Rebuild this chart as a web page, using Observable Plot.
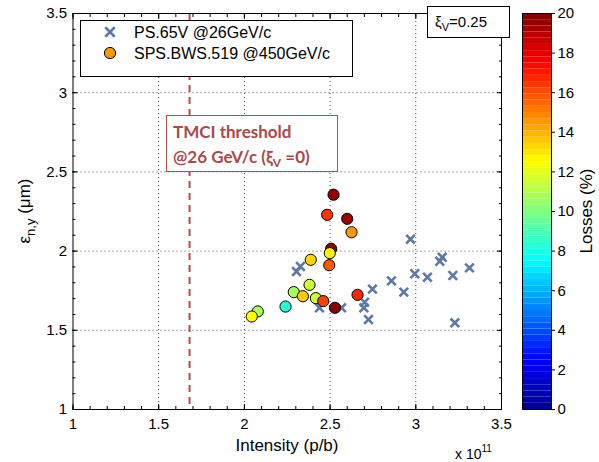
<!DOCTYPE html>
<html><head><meta charset="utf-8">
<script src="https://cdn.jsdelivr.net/npm/d3@7"></script>
<script src="https://cdn.jsdelivr.net/npm/@observablehq/plot@0.6"></script>
<style>
body{margin:0;background:#fff}
#wrap{position:relative;width:599px;height:462px;font-family:"Liberation Sans",Arial,sans-serif}
#wrap svg{position:absolute;left:0;top:0}
</style>
</head><body><div id="wrap"></div>
<script>
// PS.65V @26GeV/c (crosses)
const psIntensity = [2.327, 2.304, 2.438, 2.567, 2.969, 3.154, 3.140, 3.313, 2.994, 3.068, 3.216, 2.858, 2.930, 2.747, 2.701, 2.697, 2.724, 3.228];
const psEmittance = [1.903, 1.871, 1.642, 1.642, 2.075, 1.961, 1.936, 1.894, 1.857, 1.835, 1.846, 1.812, 1.741, 1.760, 1.677, 1.642, 1.568, 1.547];
// SPS.BWS.519 @450GeV/c (circles, coloured by losses)
const spsIntensity = [2.520, 2.483, 2.600, 2.625, 2.506, 2.498, 2.387, 2.495, 2.380, 2.288, 2.341, 2.417, 2.460, 2.240, 2.528, 2.078, 2.043, 2.660];
const spsEmittance = [2.356, 2.229, 2.204, 2.119, 2.015, 1.987, 1.945, 1.911, 1.787, 1.741, 1.715, 1.703, 1.684, 1.650, 1.642, 1.619, 1.587, 1.724];
const spsLosses    = [19.6, 16.5, 19.5, 14.5, 19.6, 12.8, 13.3, 15.8, 11.5, 10.8, 13.5, 11.5, 16.2, 8.2, 19.8, 10.8, 12.5, 16.8];
const xTicks = [1, 1.5, 2, 2.5, 3, 3.5];
const yTicks = [1, 1.5, 2, 2.5, 3, 3.5];
const lossTicks = [0, 2, 4, 6, 8, 10, 12, 14, 16, 18, 20];
const tmciThreshold = [1.68];
const jetDomain = [0, 2.5, 7.5, 12.5, 17.5, 20];
const jetRange = ["#00008f", "#0000ff", "#00ffff", "#ffff00", "#ff0000", "#800000"];

const ps = psIntensity.map((x, i) => ({x, y: psEmittance[i]}));
const sps = spsIntensity.map((x, i) => ({x, y: spsEmittance[i], loss: spsLosses[i]}));
const minorX = d3.range(10, 36).map(d => d / 10);
const minorY = d3.range(10, 36).map(d => d / 10);
const colorScale = {type: "linear", domain: jetDomain, range: jetRange, interpolate: "rgb"};

const font = '"Liberation Sans",Arial,sans-serif';
const red = "#b0504c";
const fmt = d => String(d);

const main = Plot.plot({
  width: 599, height: 462,
  marginLeft: 72.5, marginRight: 98, marginTop: 13, marginBottom: 53,
  style: {fontFamily: font, fontSize: "15px", background: "transparent", color: "#000"},
  x: {domain: [1, 3.5], label: null},
  y: {domain: [1, 3.5], label: null},
  color: colorScale,
  marks: [
    Plot.gridX(xTicks.slice(1, -1), {stroke: "#000", strokeOpacity: 0.7, strokeDasharray: "1,3"}),
    Plot.gridY(yTicks.slice(1, -1), {stroke: "#000", strokeOpacity: 0.7, strokeDasharray: "1,3"}),
    Plot.axisX(minorX, {anchor: "bottom", tickSize: -3, tickFormat: () => "", label: null}),
    Plot.axisX(minorX, {anchor: "top", tickSize: -3, tickFormat: () => "", label: null}),
    Plot.axisY(minorY, {anchor: "left", tickSize: -3, tickFormat: () => "", label: null}),
    Plot.axisY(minorY, {anchor: "right", tickSize: -3, tickFormat: () => "", label: null}),
    Plot.axisX(xTicks, {anchor: "bottom", tickSize: -5, tickFormat: () => "", label: null}),
    Plot.axisX(xTicks, {anchor: "top", tickSize: -5, tickFormat: () => "", label: null}),
    Plot.axisY(yTicks, {anchor: "left", tickSize: -5, tickFormat: () => "", label: null}),
    Plot.axisY(yTicks, {anchor: "right", tickSize: -5, tickFormat: () => "", label: null}),
    Plot.axisX(xTicks, {anchor: "bottom", tickSize: 0, tickPadding: 9, tickFormat: fmt, label: null}),
    Plot.axisY(yTicks, {anchor: "left", tickSize: 0, tickPadding: 6, tickFormat: fmt, label: null}),
    Plot.ruleX(tmciThreshold, {stroke: red, strokeWidth: 2, strokeDasharray: "7,5"}),
    Plot.dot(ps, {x: "x", y: "y", symbol: "times", r: 4, stroke: "#5b78a8", strokeWidth: 2.6}),
    Plot.dot(sps, {x: "x", y: "y", fill: "loss", r: 5.6, stroke: "#000", strokeWidth: 1}),
    Plot.frame({stroke: "#000"})
  ]
});

const nCells = 64;
const cells = d3.range(nCells).map(i => ({lo: 20 * i / nCells, hi: 20 * (i + 1) / nCells, mid: 20 * (i + 0.5) / nCells}));
const cbar = Plot.plot({
  width: 599, height: 462,
  marginLeft: 522, marginRight: 48, marginTop: 13, marginBottom: 53,
  style: {fontFamily: font, fontSize: "15px", background: "transparent", color: "#000"},
  x: {domain: [0, 1], axis: null},
  y: {domain: [0, 20], label: null},
  color: colorScale,
  marks: [
    Plot.rect(cells, {x1: 0, x2: 1, y1: "lo", y2: "hi", fill: "mid"}),
    Plot.axisY(lossTicks, {anchor: "right", tickSize: 3, tickPadding: 3, label: null}),
    Plot.frame({stroke: "#000"})
  ]
});

const wrap = document.getElementById("wrap");
wrap.appendChild(cbar);
wrap.appendChild(main);

// annotations
const svg = d3.select(main);
const g = svg.append("g").attr("text-anchor", "start");
// legend
g.append("rect").attr("x", 80.5).attr("y", 20.5).attr("width", 272).attr("height", 56)
  .attr("fill", "#fff").attr("stroke", "#000");
g.append("path").attr("transform", "translate(110,32)")
  .attr("d", d3.symbol(d3.symbolTimes, 60)()).attr("fill", "none")
  .attr("stroke", "#5b78a8").attr("stroke-width", 2.6);
g.append("circle").attr("cx", 110).attr("cy", 53).attr("r", 5.6)
  .attr("fill", "#ff9900").attr("stroke", "#000");
g.append("text").attr("x", 134).attr("y", 38).attr("font-size", 16).attr("font-family", font).text("PS.65V @26GeV/c");
g.append("text").attr("x", 134).attr("y", 59).attr("font-size", 16).attr("font-family", font).text("SPS.BWS.519 @450GeV/c");

// xi box
g.append("rect").attr("x", 427.5).attr("y", 6.5).attr("width", 82).attr("height", 31)
  .attr("fill", "#fff").attr("stroke", "#000");
const xt = g.append("text").attr("x", 435).attr("y", 27).attr("font-size", 15).attr("font-family", font);
xt.append("tspan").text("ξ");
xt.append("tspan").attr("font-size", 11).attr("dy", 4).text("V");
xt.append("tspan").attr("dy", -4).text("=0.25");

// TMCI box
g.append("rect").attr("x", 166.5).attr("y", 115.5).attr("width", 171).attr("height", 56)
  .attr("fill", "#fff").attr("stroke", red);
const tf = '"Lato","Open Sans",sans-serif';
g.append("text").attr("x", 173).attr("y", 138).attr("font-size", 17).attr("font-weight", "bold")
  .attr("font-family", tf).attr("fill", "#a8494a").text("TMCI threshold");
const t2 = g.append("text").attr("x", 173).attr("y", 163).attr("font-size", 17).attr("font-weight", "bold")
  .attr("font-family", tf).attr("fill", "#a8494a");
t2.append("tspan").text("@26 GeV/c (ξ");
t2.append("tspan").attr("font-size", 12).attr("dy", 4).text("V");
t2.append("tspan").attr("dy", -4).text(" =0)");

// y label
const yl = g.append("text").attr("transform", "translate(30,211) rotate(-90)").attr("text-anchor", "middle")
  .attr("font-size", 17).attr("font-family", font);
yl.append("tspan").text("ε");
yl.append("tspan").attr("font-size", 13).attr("dy", 5).text("n,y");
yl.append("tspan").attr("dy", -5).text(" (μm)");

// x label
g.append("text").attr("x", 287).attr("y", 451).attr("text-anchor", "middle").attr("font-size", 17)
  .attr("font-family", font).text("Intensity (p/b)");
const xe = g.append("text").attr("x", 455).attr("y", 459).attr("font-size", 14).attr("font-family", font);
xe.append("tspan").text("x 10");
xe.append("tspan").attr("font-size", 10).attr("dy", -7).text("11");

// colorbar label
d3.select(cbar).append("text").attr("transform", "translate(592,211) rotate(-90)").attr("text-anchor", "middle")
  .attr("font-size", 17).attr("font-family", font).text("Losses (%)");
</script>
</body></html>
